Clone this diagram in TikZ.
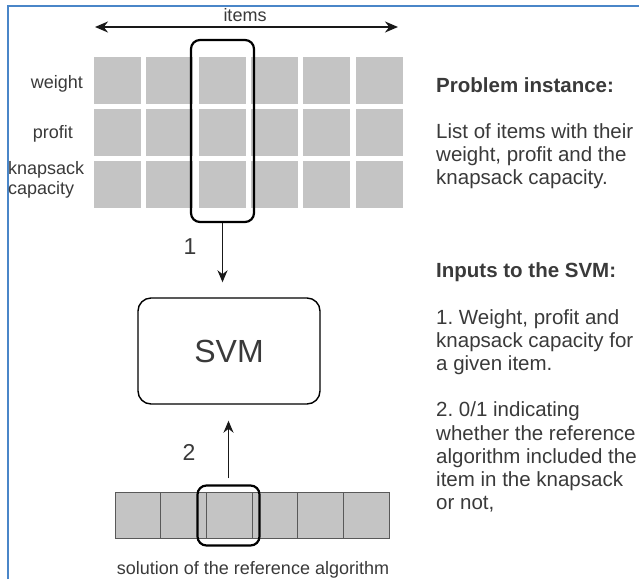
\documentclass[tikz,border=0pt]{standalone}
\usepackage{fontspec}
\setmainfont{Liberation Sans}
\usetikzlibrary{arrows.meta}
\frenchspacing
\definecolor{framecol}{HTML}{4A86C8}
\definecolor{cellgray}{HTML}{C4C4C4}
\definecolor{textgray}{HTML}{3A3A3A}
\tikzset{
  cell/.style={fill=cellgray, minimum width=47pt, minimum height=47pt, inner sep=0pt},
  slot/.style={fill=cellgray, draw=black!65, line width=0.9pt, minimum width=45.7pt, minimum height=46pt, inner sep=0pt},
  pick/.style={draw=black, line width=2.2pt, rounded corners=9pt, inner sep=0pt},
  lbl/.style={text=textgray, font=\fontsize{18}{20}\selectfont, inner sep=0pt},
  note/.style={text=textgray, font=\fontsize{20.5}{23.2}\selectfont, align=left, anchor=base west, inner sep=0pt},
  flow/.style={-{Stealth[length=12pt,width=10pt]}, line width=1.6pt, draw=black!90},
}
\begin{document}
\begin{tikzpicture}[x=1pt,y=-1pt]
  \clip (0,0) rectangle (639,579);
  \fill[white] (0,0) rectangle (639,579);
  \draw[framecol, line width=1.6pt] (8,579) -- (8,6) -- (639,6);

  % problem instance grid
  \foreach \r in {0,1,2}
    \foreach \c in {0,...,5}
      \node[cell] (g\r\c) at ({117.5+52.3*\c},{80.5+52*\r}) {};
  \node[pick, minimum width=63pt, minimum height=182pt] (sel) at (222.5,131) {};

  \coordinate (il) at (95,27);
  \coordinate (ir) at (398,27);
  \draw[{Stealth[length=13pt,width=11pt]}-{Stealth[length=13pt,width=11pt]}, line width=2pt, draw=black!90] (il) -- (ir);
  \node[lbl] (items) at (245,15) {items};

  \node[lbl, anchor=east] (wgt) at (83,84) {weight};
  \node[lbl, anchor=east] (prf) at (73,134) {profit};
  \node[lbl, anchor=west, align=left] (cap) at (8,180) {knapsack\\capacity};

  % svm
  \node[draw, line width=1.4pt, rounded corners=13pt, minimum width=182pt, minimum height=106pt,
        text=textgray, font=\fontsize{32}{36}\selectfont] (svm) at (229,351) {SVM};

  % solution row
  \foreach \c in {0,...,5}
    \node[slot] (s\c) at ({137.8+45.7*\c},515.5) {};
  \node[pick, minimum width=62pt, minimum height=60pt] (bsel) at (228.5,515.5) {};
  \node[lbl] (sol) at (253,570) {solution of the reference algorithm};

  \draw[flow, shorten >=15pt] (sel.south) -- (sel.south |- svm.north);
  \draw[flow, shorten <=6pt, shorten >=16pt] (bsel.north) -- (bsel.north |- svm.south);
  \node[lbl, font=\fontsize{23}{26}\selectfont] (one) at (190,247) {1};
  \node[lbl, font=\fontsize{23}{26}\selectfont] (two) at (189,452) {2};

  % notes
  \node[note, font=\fontsize{20.5}{23.2}\bfseries] (pi) at (436,92) {Problem instance:};
  \node[note] (pl) at (436,184.8) {List of items with their\\weight, profit and the\\knapsack capacity.};
  \node[note, font=\fontsize{20.5}{23.2}\bfseries] (in) at (436,277.6) {Inputs to the SVM:};
  \node[note] (i1) at (436,370.4) {1. Weight, profit and\\knapsack capacity for\\a given item.};
  \node[note] (i2) at (436,509.6) {2. 0/1 indicating\\whether the reference\\algorithm included the\\item in the knapsack\\or not,};
\end{tikzpicture}
\end{document}
